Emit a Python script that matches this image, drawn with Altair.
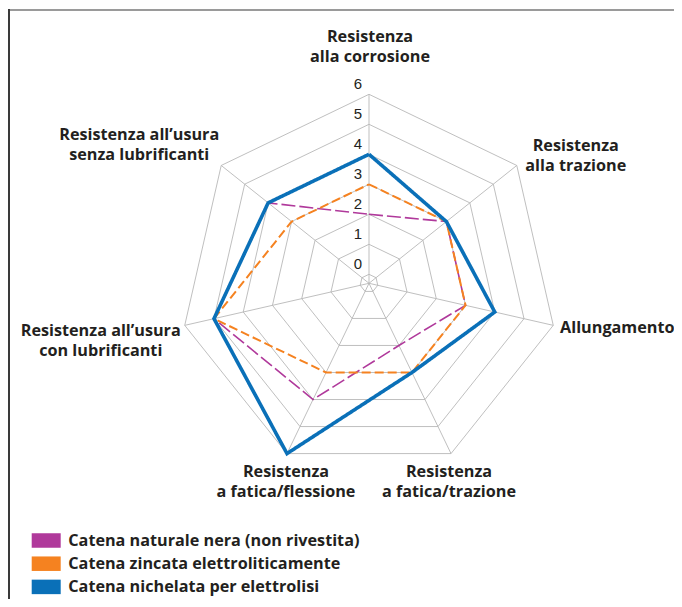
import math
import altair as alt
import pandas as pd

# ---------------- data ----------------
categories = [
    "Resistenza\nalla corrosione",
    "Resistenza\nalla trazione",
    "Allungamento",
    "Resistenza\na fatica/trazione",
    "Resistenza\na fatica/flessione",
    "Resistenza all’usura\ncon lubrificanti",
    "Resistenza all’usura\nsenza lubrificanti",
]
series = [
    "Catena naturale nera (non rivestita)",
    "Catena zincata elettroliticamente",
    "Catena nichelata per elettrolisi",
]
naturale = [2, 3, 3, 2, 4, 5, 4]
zincata = [3, 3, 3, 3, 3, 5, 3]
nichelata = [4, 3, 4, 3, 6, 5, 4]
levels = [0, 1, 2, 3, 4, 5, 6]

# ---------------- style / layout ----------------
colors = ["#b0399b", "#f58220", "#0a70b8"]
widths = [1.6, 2.0, 3.6]
dashes = [[14, 4], [9, 4], [1, 0]]
TXT = "#231f20"
GRID = "#b8b8b8"
FS = 16.2
LH = 20

W, H = 662, 587          # plot area
PAD_L, PAD_T = 4, 4
UNIT = 30.0              # px per value unit
CX, CY = 357.0, 271.3    # centre of the radar in plot px
R0 = 0.3                 # radius offset of the "0" ring
N = len(categories)

# per-label offsets (px) of the label block centre from the outer vertex of its axis
label_off = [(1, -47), (59, -9.5), (64, 2.6), (-2, 28), (-1, 28), (-84, 16), (-82, -20)]

xs = alt.Scale(domain=[-CX / UNIT, (W - CX) / UNIT], nice=False, zero=False)
ys = alt.Scale(domain=[-(H - CY) / UNIT, CY / UNIT], nice=False, zero=False)


def polar(r, k):
    th = 2 * math.pi * k / N
    return r * math.sin(th), r * math.cos(th)


# grid rings
ring_rows = []
for lv in levels:
    for k in range(N + 1):
        x, y = polar(lv + R0, k % N)
        ring_rows.append({"level": lv, "k": k, "x": x, "y": y})
rings_df = pd.DataFrame(ring_rows)

# spokes
spoke_rows = []
for k in range(N):
    x, y = polar(levels[-1] + R0, k)
    spoke_rows.append({"k": k, "x": 0.0, "y": 0.0, "x2": x, "y2": y})
spokes_df = pd.DataFrame(spoke_rows)

# series polygons
all_vals = [naturale, zincata, nichelata]
series_dfs = []
for s, vals in zip(series, all_vals):
    rows = []
    for k in range(N + 1):
        v = vals[k % N]
        x, y = polar(v + R0, k % N)
        rows.append({"series": s, "k": k, "value": v, "x": x, "y": y})
    series_dfs.append(pd.DataFrame(rows))

# tick labels
ticks_df = pd.DataFrame({"level": levels,
                         "x": [0.0] * len(levels),
                         "y": [lv + R0 for lv in levels],
                         "t": [str(lv) for lv in levels]})

# category labels (first line placed so that the block is centred)
lab_rows = []
for k, c in enumerate(categories):
    x, y = polar(levels[-1] + R0, k)
    dx, dy = label_off[k]
    nl = c.count("\n")
    dy = dy - nl * LH / 2
    lab_rows.append({"label": c, "x": x + dx / UNIT, "y": y - dy / UNIT})
labels_df = pd.DataFrame(lab_rows)

legend_df = pd.DataFrame({"series": series, "row": list(range(len(series)))})

# ---------------- layers ----------------
rings = alt.Chart(rings_df).mark_line(color=GRID, strokeWidth=0.9).encode(
    x=alt.X("x:Q", scale=xs, axis=None),
    y=alt.Y("y:Q", scale=ys, axis=None),
    detail="level:N",
    order="k:Q",
)

spokes = alt.Chart(spokes_df).mark_rule(color=GRID, strokeWidth=0.9).encode(
    x=alt.X("x:Q", scale=xs, axis=None),
    y=alt.Y("y:Q", scale=ys, axis=None),
    x2="x2:Q",
    y2="y2:Q",
)

series_layers = []
for i, df in enumerate(series_dfs):
    series_layers.append(
        alt.Chart(df).mark_line(
            color=colors[i], strokeWidth=widths[i], strokeDash=dashes[i],
            strokeJoin="miter", strokeCap="butt"
        ).encode(
            x=alt.X("x:Q", scale=xs, axis=None),
            y=alt.Y("y:Q", scale=ys, axis=None),
            order="k:Q",
        )
    )

ticks = alt.Chart(ticks_df).mark_text(
    font="Liberation Sans", fontSize=15, color=TXT, dx=-11, dy=-10,
    align="center", baseline="middle"
).encode(
    x=alt.X("x:Q", scale=xs, axis=None),
    y=alt.Y("y:Q", scale=ys, axis=None),
    text="t:N",
)

cat_labels = alt.Chart(labels_df).mark_text(
    font="Open Sans", fontSize=FS, fontWeight="bold", color=TXT,
    align="center", baseline="middle", lineBreak="\n", lineHeight=LH
).encode(
    x=alt.X("x:Q", scale=xs, axis=None),
    y=alt.Y("y:Q", scale=ys, axis=None),
    text="label:N",
)

leg_y = alt.Scale(domain=[0, 2], range=[528.5, 574.9])
leg_color = alt.Scale(domain=series, range=colors)

leg_sw = alt.Chart(legend_df).mark_point(
    shape="M-1,-0.5L1,-0.5L1,0.5L-1,0.5Z", size=841, filled=True, opacity=1, strokeWidth=0
).encode(
    x=alt.value(34.2),
    y=alt.Y("row:Q", scale=leg_y, axis=None),
    color=alt.Color("series:N", scale=leg_color, legend=None),
)

leg_txt = alt.Chart(legend_df).mark_text(
    font="Open Sans", fontSize=FS, fontWeight="bold", color=TXT,
    align="left", baseline="middle"
).encode(
    x=alt.value(56.3),
    y=alt.Y("row:Q", scale=leg_y, axis=None),
    text="series:N",
)

frame_df = pd.DataFrame({"a": [0]})
top_line = alt.Chart(frame_df).mark_rule(color="#9a9a9a", strokeWidth=2).encode(
    x=alt.value(-PAD_L), x2=alt.value(W), y=alt.value(-2)
)
left_line = alt.Chart(frame_df).mark_rule(color="#3a3a3a", strokeWidth=2).encode(
    x=alt.value(-3), y=alt.value(-3), y2=alt.value(H)
)

chart = alt.layer(
    rings, spokes, *series_layers, ticks, cat_labels, leg_sw, leg_txt, top_line, left_line
).resolve_scale(
    y="independent", x="independent"
).properties(
    width=W, height=H,
    autosize=alt.AutoSizeParams(type="none"),
    padding={"left": PAD_L, "top": PAD_T, "right": 0, "bottom": 0},
).configure_view(strokeWidth=0)

chart.save("out.html", embed_options={"renderer": "svg", "actions": False})
